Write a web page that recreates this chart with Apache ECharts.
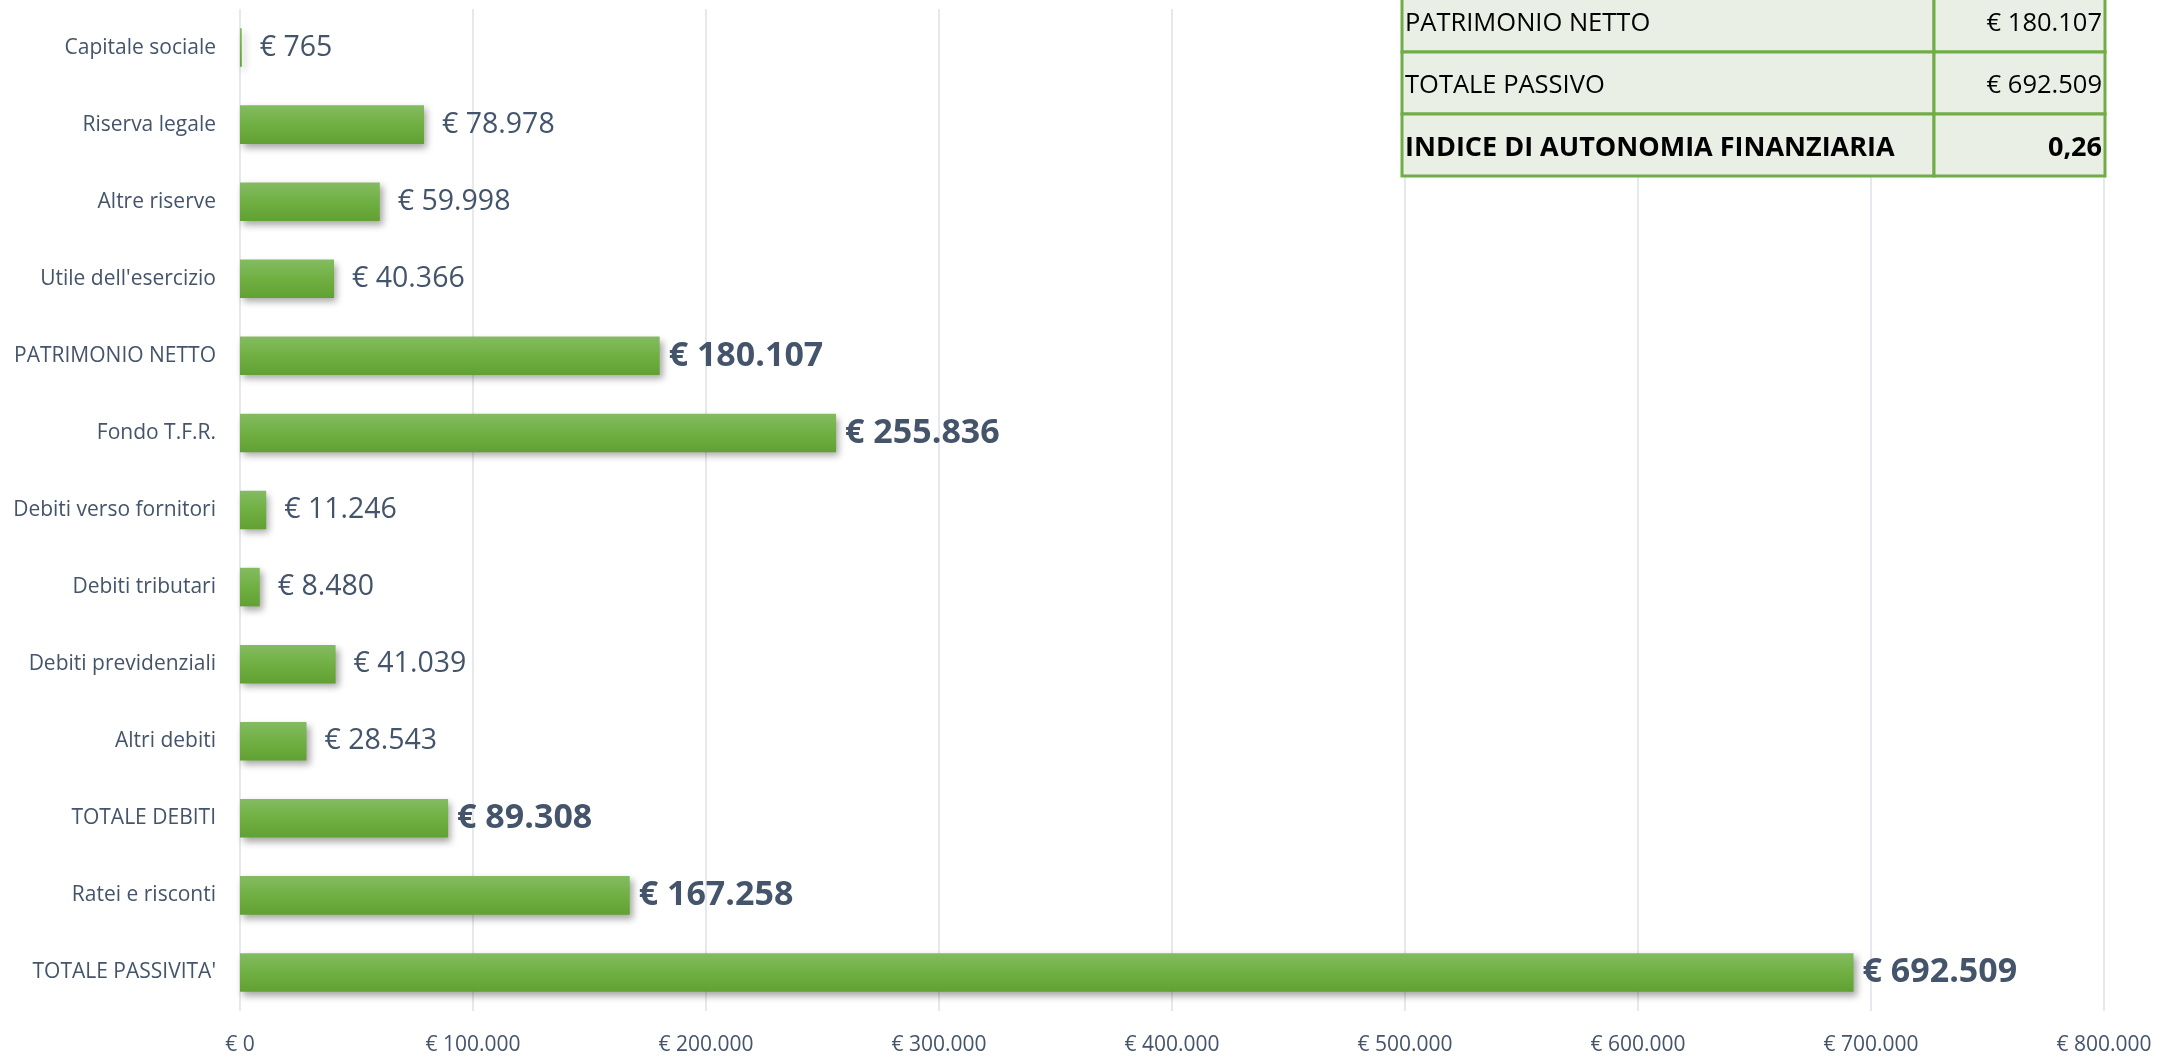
<!DOCTYPE html>
<html>
<head>
<meta charset="utf-8">
<title>Passività</title>
<script src="https://cdn.jsdelivr.net/npm/echarts@6/dist/echarts.min.js"></script>
<style>
  html, body { margin: 0; padding: 0; background: #ffffff; }
  #chart { width: 2179px; height: 1056px; }
</style>
</head>
<body>
<div id="chart"></div>
<script>
// Voci del passivo, dall'alto verso il basso
const categories = [
  'Capitale sociale',
  'Riserva legale',
  'Altre riserve',
  "Utile dell'esercizio",
  'PATRIMONIO NETTO',
  'Fondo T.F.R.',
  'Debiti verso fornitori',
  'Debiti tributari',
  'Debiti previdenziali',
  'Altri debiti',
  'TOTALE DEBITI',
  'Ratei e risconti',
  "TOTALE PASSIVITA'"
];
const values = [765, 78978, 59998, 40366, 180107, 255836, 11246, 8480, 41039, 28543, 89308, 167258, 692509];
// voci evidenziate in grassetto
const highlighted = ['PATRIMONIO NETTO', 'Fondo T.F.R.', 'TOTALE DEBITI', 'Ratei e risconti', "TOTALE PASSIVITA'"];

// asse dei valori
const axisMin = 0;
const axisMax = 800000;
const axisStep = 100000;

// riquadro dell'indice
const tableLabels = ['PATRIMONIO NETTO', 'TOTALE PASSIVO', 'INDICE DI AUTONOMIA FINANZIARIA'];
const patrimonioNetto = 180107;
const totalePassivo = 692509;

function euro(v) {
  return '€ ' + String(Math.round(v)).replace(/\B(?=(\d{3})+(?!\d))/g, '.');
}

const indice = (patrimonioNetto / totalePassivo).toFixed(2).replace('.', ',');
const tableValues = [euro(patrimonioNetto), euro(totalePassivo), indice];

const FONT = '"Open Sans", "Noto Sans", sans-serif';
const TEXT = '#44546a';

const barGradient = new echarts.graphic.LinearGradient(0, 0, 0, 1, [
  { offset: 0, color: '#84bb62' },
  { offset: 0.5, color: '#70b042' },
  { offset: 1, color: '#61a033' }
]);

const seriesData = values.map((v, i) => {
  const bold = highlighted.includes(categories[i]);
  return {
    value: v,
    label: bold
      ? { fontSize: 34, fontWeight: 'bold', distance: 9 }
      : { fontSize: 28.5, fontWeight: 'normal', distance: 18 }
  };
});

// tabella in alto a destra
const tblLeft = 1402, tblMid = 1934, tblRight = 2105;
const rowTop = -10, rowH = 62;
const tableGraphics = [];
tableLabels.forEach((lab, r) => {
  const y = rowTop + r * rowH;
  const bold = r === tableLabels.length - 1;
  const font = bold ? 'bold 27px ' + FONT : '25.5px ' + FONT;
  tableGraphics.push({
    type: 'rect',
    shape: { x: tblLeft, y: y, width: tblMid - tblLeft, height: rowH },
    style: { fill: '#e9efe4', stroke: '#70ad47', lineWidth: 3 },
    z: 10
  });
  tableGraphics.push({
    type: 'rect',
    shape: { x: tblMid, y: y, width: tblRight - tblMid, height: rowH },
    style: { fill: '#e9efe4', stroke: '#70ad47', lineWidth: 3 },
    z: 10
  });
  tableGraphics.push({
    type: 'text',
    x: tblLeft + 3,
    y: y + rowH / 2 + 3,
    style: {
      text: lab,
      font: font,
      fill: '#000000',
      verticalAlign: 'middle',
      align: 'left'
    },
    z: 11
  });
  tableGraphics.push({
    type: 'text',
    x: tblRight - 3,
    y: y + rowH / 2 + 3,
    style: {
      text: tableValues[r],
      font: font,
      fill: '#000000',
      verticalAlign: 'middle',
      align: 'right'
    },
    z: 11
  });
});

const chart = echarts.init(document.getElementById('chart'), null, { renderer: 'canvas' });
chart.setOption({
  animation: false,
  backgroundColor: '#ffffff',
  grid: { left: 240, right: 75, top: 9, bottom: 44, containLabel: false },
  xAxis: {
    type: 'value',
    min: axisMin,
    max: axisMax,
    interval: axisStep,
    axisLine: { show: false },
    axisTick: { show: false },
    splitLine: { show: true, lineStyle: { color: '#dde1e7', width: 1.5 } },
    axisLabel: {
      margin: 24,
      fontFamily: FONT,
      fontSize: 21,
      color: TEXT,
      formatter: v => euro(v)
    }
  },
  yAxis: {
    type: 'category',
    data: categories,
    inverse: true,
    axisLine: { show: false },
    axisTick: { show: false },
    splitLine: { show: false },
    axisLabel: {
      margin: 24,
      fontFamily: FONT,
      fontSize: 21,
      color: TEXT
    }
  },
  series: [{
    type: 'bar',
    data: seriesData,
    barWidth: '50%',
    itemStyle: {
      color: barGradient,
      shadowColor: 'rgba(0,0,0,0.35)',
      shadowBlur: 7,
      shadowOffsetX: 3,
      shadowOffsetY: 4
    },
    label: {
      show: true,
      position: 'right',
      fontFamily: FONT,
      color: TEXT,
      formatter: p => euro(p.value)
    }
  }],
  graphic: tableGraphics
});
</script>
</body>
</html>
